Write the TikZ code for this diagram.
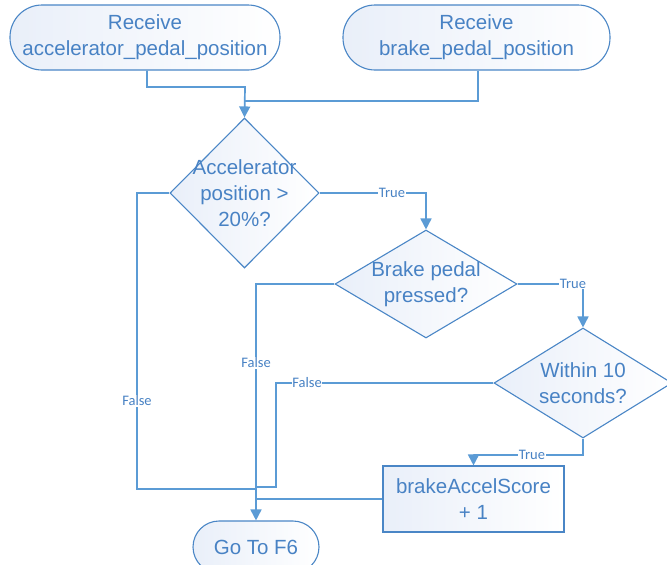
\documentclass[tikz,border=0pt]{standalone}
\usepackage{fontspec}
\setmainfont{Liberation Sans}
\newfontfamily\labelfont{Carlito}
\usetikzlibrary{shapes.geometric,arrows.meta}
\definecolor{linkblue}{RGB}{91,155,213}
\definecolor{edgeblue}{RGB}{74,134,198}
\definecolor{inkblue}{RGB}{72,130,196}
\definecolor{paleblue}{RGB}{233,239,249}
\tikzset{
  shapebase/.style={draw=edgeblue, line width=1.1pt, left color=paleblue, right color=white, inner sep=0pt},
  terminal/.style={shapebase, rectangle, rounded corners=#1},
  decision/.style={shapebase, diamond},
  process/.style={shapebase, rectangle},
  caption/.style={text=inkblue, align=center, font=\fontsize{20.5}{26}\selectfont, inner sep=0pt},
  flow/.style={draw=linkblue, line width=1.7pt},
  flowarrow/.style={flow, -{Triangle[width=11pt,length=11pt]}},
  edgelabel/.style={text=inkblue, font=\labelfont\fontsize{14.5}{16}\selectfont, fill=white, inner sep=0.6pt}
}
\begin{document}
\begin{tikzpicture}[x=1pt,y=-1pt]
\useasboundingbox (0,0) rectangle (667,565);

% start terminals
\node[terminal=32pt, minimum width=270pt, minimum height=65pt] (recvA) at (145,37.5) {};
\node[caption] (recvAtxt) at (recvA) {Receive\\accelerator\_pedal\_position};
\node[terminal=32pt, minimum width=267pt, minimum height=65pt] (recvB) at (476.5,37.5) {};
\node[caption] (recvBtxt) at (recvB) {Receive\\brake\_pedal\_position};

% decisions
\node[decision, minimum width=149pt, minimum height=150pt] (accel) at (244.5,193) {};
\node[caption] (acceltxt) at (accel) {Accelerator\\position >\\20\%?};
\node[decision, minimum width=182pt, minimum height=108pt] (brake) at (426,284) {};
\node[caption] (braketxt) at (brake) {Brake pedal\\pressed?};
\node[decision, minimum width=178pt, minimum height=110pt] (within) at (583,383) {};
\node[caption] (withintxt) at (within) {Within 10\\seconds?};

% action and end
\node[process, minimum width=181pt, minimum height=66pt] (score) at (473.5,499) {};
\node[caption] (scoretxt) at (score) {brakeAccelScore\\+ 1};
\node[terminal=26pt, minimum width=126pt, minimum height=52pt] (goto) at (256,547) {};
\node[caption] (gototxt) at (goto) {Go To F6};

% junction points
\coordinate (joinTop) at (245,101);
\coordinate (joinLow) at (256,489);

% inputs merge into the first decision
\draw[flowarrow] (recvA.south -| 147,0) |- (245,87) -- (accel.north);
\draw[flow] (recvB.south -| 478,0) |- (joinTop);

% true branches
\draw[flowarrow] (accel.east) -| (brake.north);
\node[edgelabel] (t1) at (392,193) {True};
\draw[flowarrow] (brake.east) -| (within.north);
\node[edgelabel] (t2) at (573,284) {True};
\draw[flowarrow] (within.south) |- (532,455) -| (score.north);
\node[edgelabel] (t3) at (532,455) {True};

% false branches and return path
\draw[flowarrow] (brake.west) -| (goto.north);
\node[edgelabel] (f2) at (256,363) {False};
\draw[flow] (accel.west) -| (137,489) -- (joinLow);
\node[edgelabel] (f1) at (137,401) {False};
\draw[flow] (within.west) -| (276,487) -- (256,487);
\node[edgelabel] (f3) at (307,383) {False};
\draw[flow] (score.west) -- (score.west -| goto.north);
\end{tikzpicture}
\end{document}
